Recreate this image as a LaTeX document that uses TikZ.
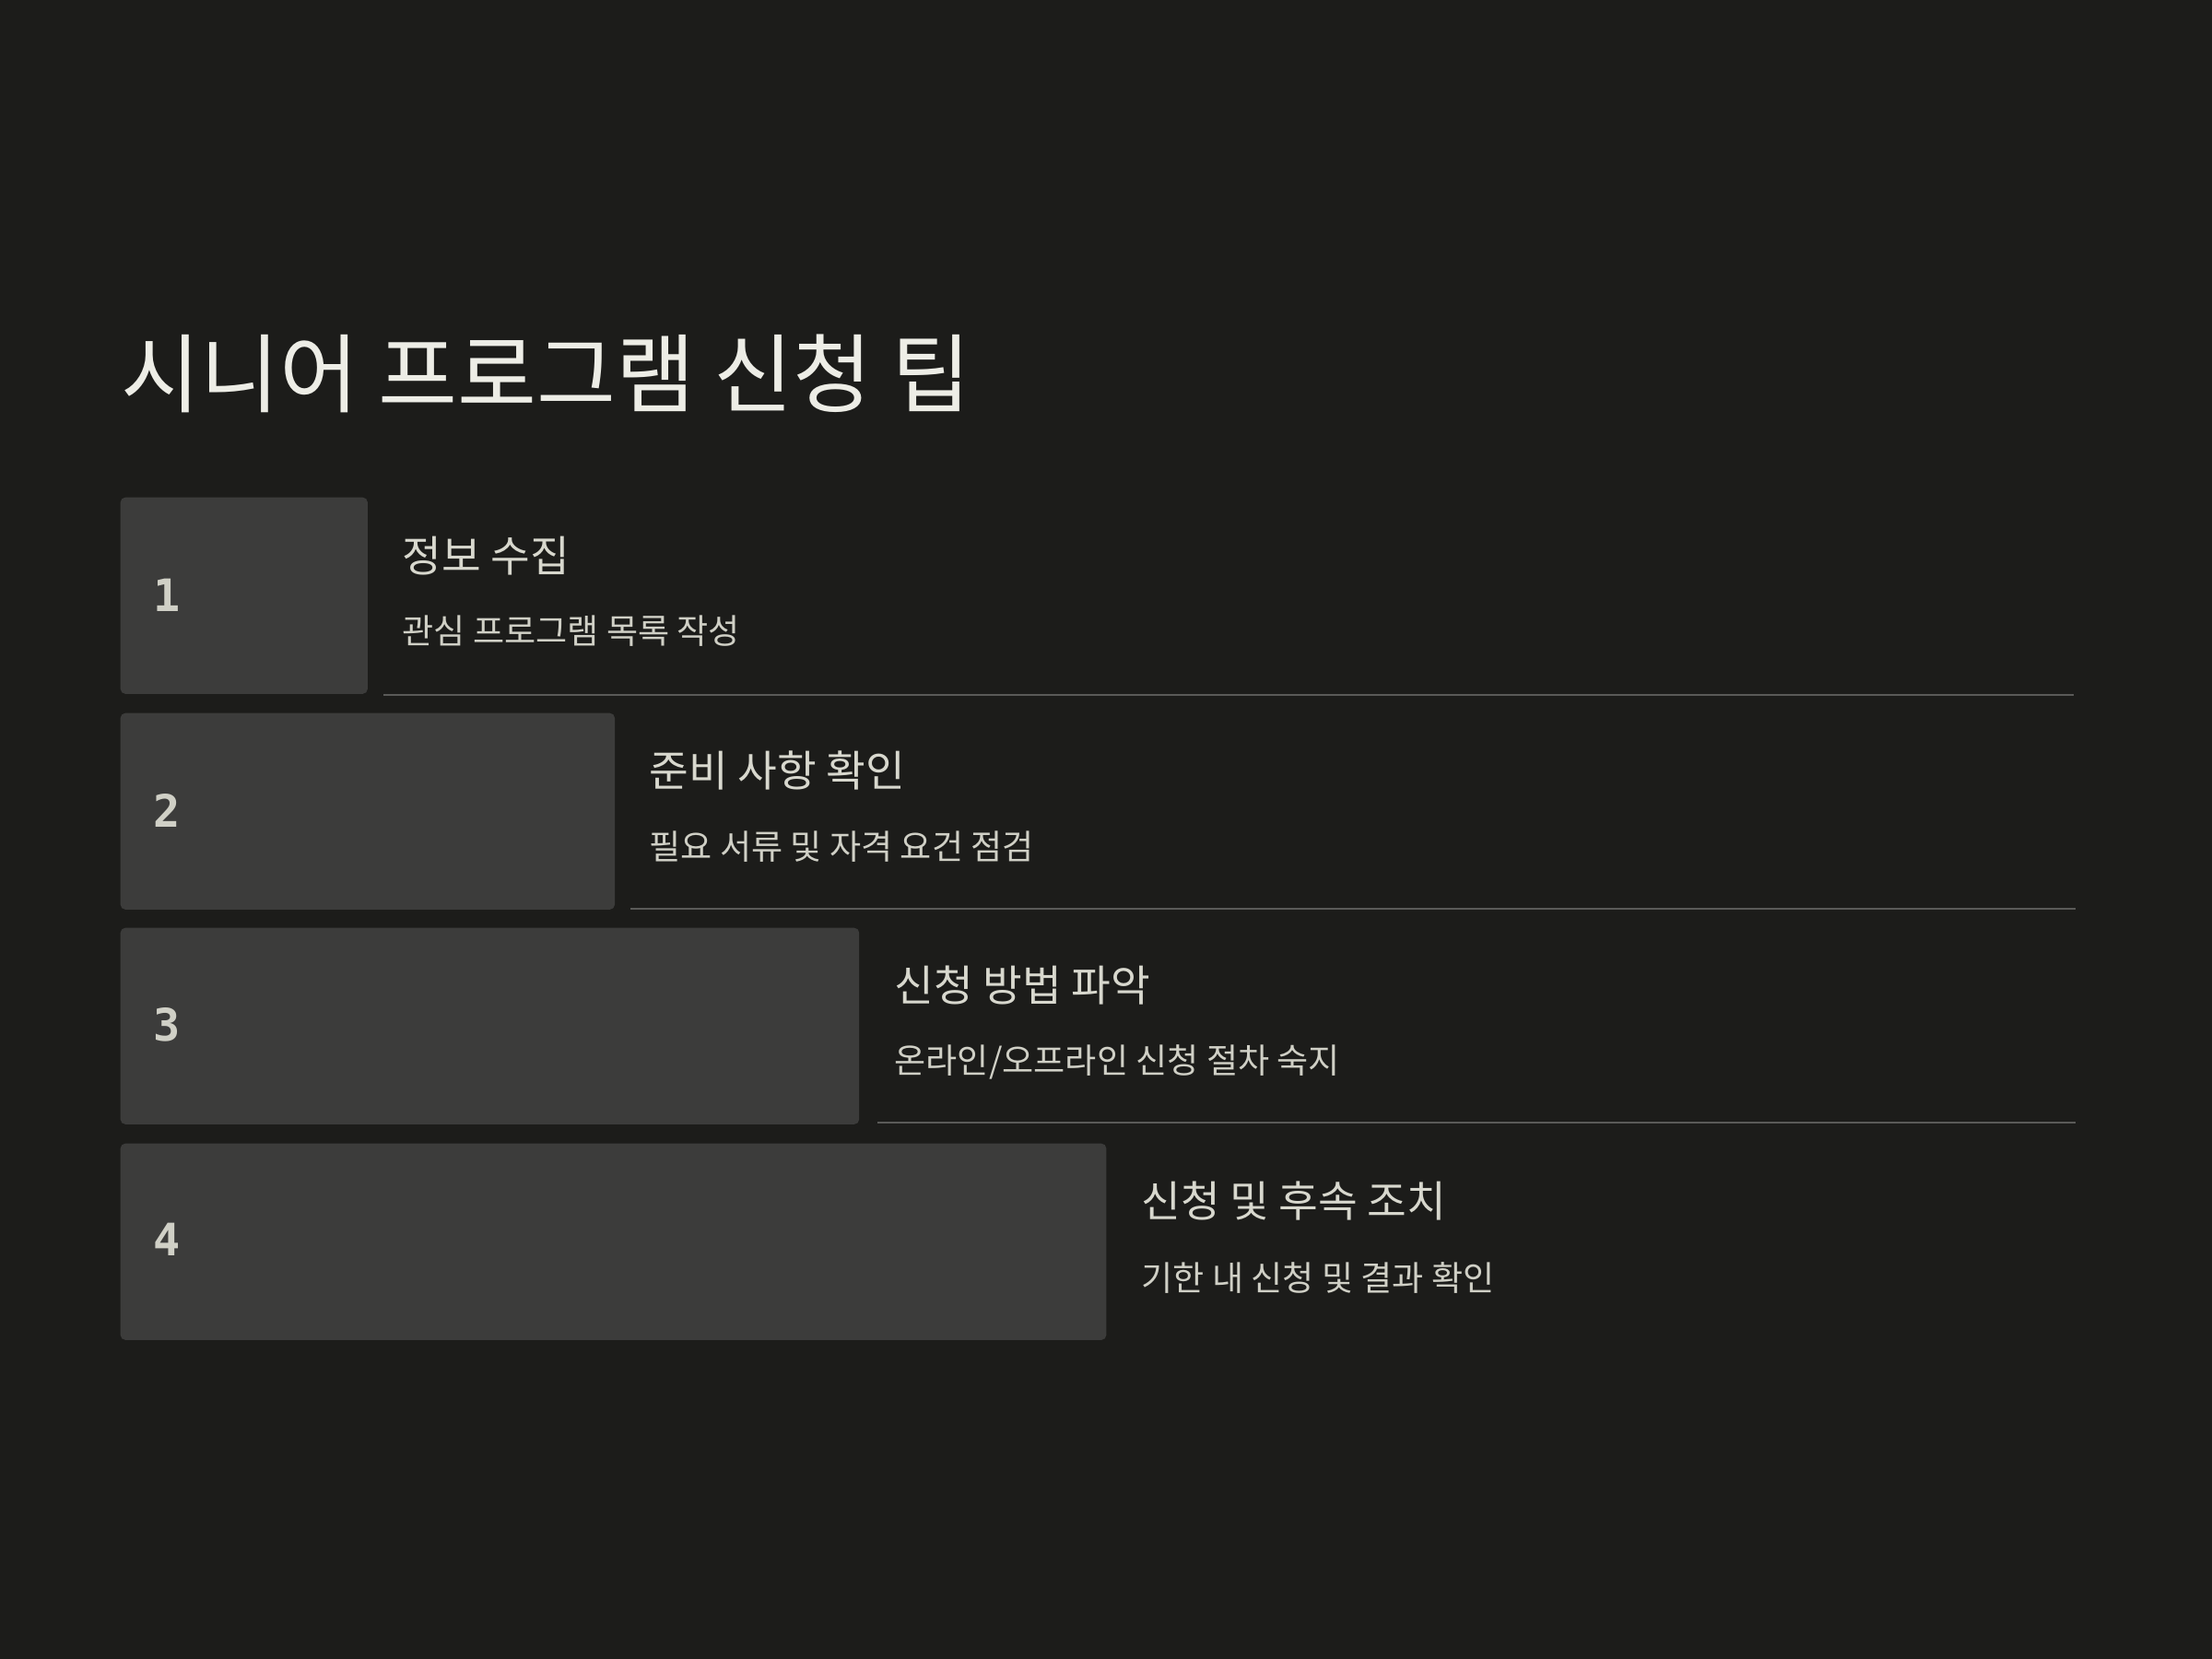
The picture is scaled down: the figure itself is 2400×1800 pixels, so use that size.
\documentclass[tikz,border=0pt]{standalone}
\usepackage{fontspec}
\newfontfamily\kr{Noto Sans CJK KR}
\newfontfamily\numf{DejaVu Sans Mono}
\definecolor{bg}{HTML}{1C1C1A}
\definecolor{boxc}{HTML}{3C3C3B}
\definecolor{titlec}{HTML}{EDEDE6}
\definecolor{headc}{HTML}{D8D8CE}
\definecolor{subc}{HTML}{D0D0C6}
\definecolor{numc}{HTML}{D0D0C6}
\definecolor{linec}{HTML}{5A5A58}
\begin{document}
\begin{tikzpicture}[x=0.01cm,y=-0.01cm,
  stepbox/.style={fill=boxc,draw=none,rounded corners=1.5pt,anchor=north west,inner sep=0pt,minimum height=2.13cm},
  numtxt/.style={anchor=west,inner sep=0pt,text=numc,font=\numf\bfseries\fontsize{13.8pt}{16pt}\selectfont},
  headtxt/.style={anchor=west,inner sep=0pt,text=headc,font=\kr\fontsize{13.2pt}{15pt}\selectfont},
  subtxt/.style={anchor=west,inner sep=0pt,text=subc,font=\kr\fontsize{10.55pt}{13pt}\selectfont},
  divider/.style={draw=linec,line width=0.6pt}]
\fill[bg] (0,0) rectangle (2400,1800);
\useasboundingbox (0,0) rectangle (2400,1800);
\node[anchor=west,inner sep=0pt,text=titlec,font=\kr\fontsize{26.55pt}{30pt}\selectfont] (title) at (131,405) {시니어 프로그램 신청 팁};
% row 1
\node[stepbox,minimum width=2.68cm] (box1) at (130,539) {};
\node[numtxt] (n1) at (166,646) {1};
\node[headtxt] (h1) at (436,603) {정보 수집};
\node[subtxt] (s1) at (436,685) {관심 프로그램 목록 작성};
\coordinate (l1a) at (416,754); \coordinate (l1b) at (2250,754);
\draw[divider] (l1a) -- (l1b);
% row 2
\node[stepbox,minimum width=5.36cm] (box2) at (130,773) {};
\node[numtxt] (n2) at (166,879) {2};
\node[headtxt] (h2) at (704,836) {준비 사항 확인};
\node[subtxt] (s2) at (704,919) {필요 서류 및 자격 요건 점검};
\coordinate (l2a) at (684,986); \coordinate (l2b) at (2252,986);
\draw[divider] (l2a) -- (l2b);
% row 3
\node[stepbox,minimum width=8.01cm] (box3) at (130,1006) {};
\node[numtxt] (n3) at (166,1112) {3};
\node[headtxt] (h3) at (970,1069) {신청 방법 파악};
\node[subtxt] (s3) at (970,1152) {온라인/오프라인 신청 절차 숙지};
\coordinate (l3a) at (952,1218); \coordinate (l3b) at (2252,1218);
\draw[divider] (l3a) -- (l3b);
% row 4
\node[stepbox,minimum width=10.69cm] (box4) at (130,1240) {};
\node[numtxt] (n4) at (166,1345) {4};
\node[headtxt] (h4) at (1238,1303) {신청 및 후속 조치};
\node[subtxt] (s4) at (1238,1386) {기한 내 신청 및 결과 확인};
\end{tikzpicture}
\end{document}
